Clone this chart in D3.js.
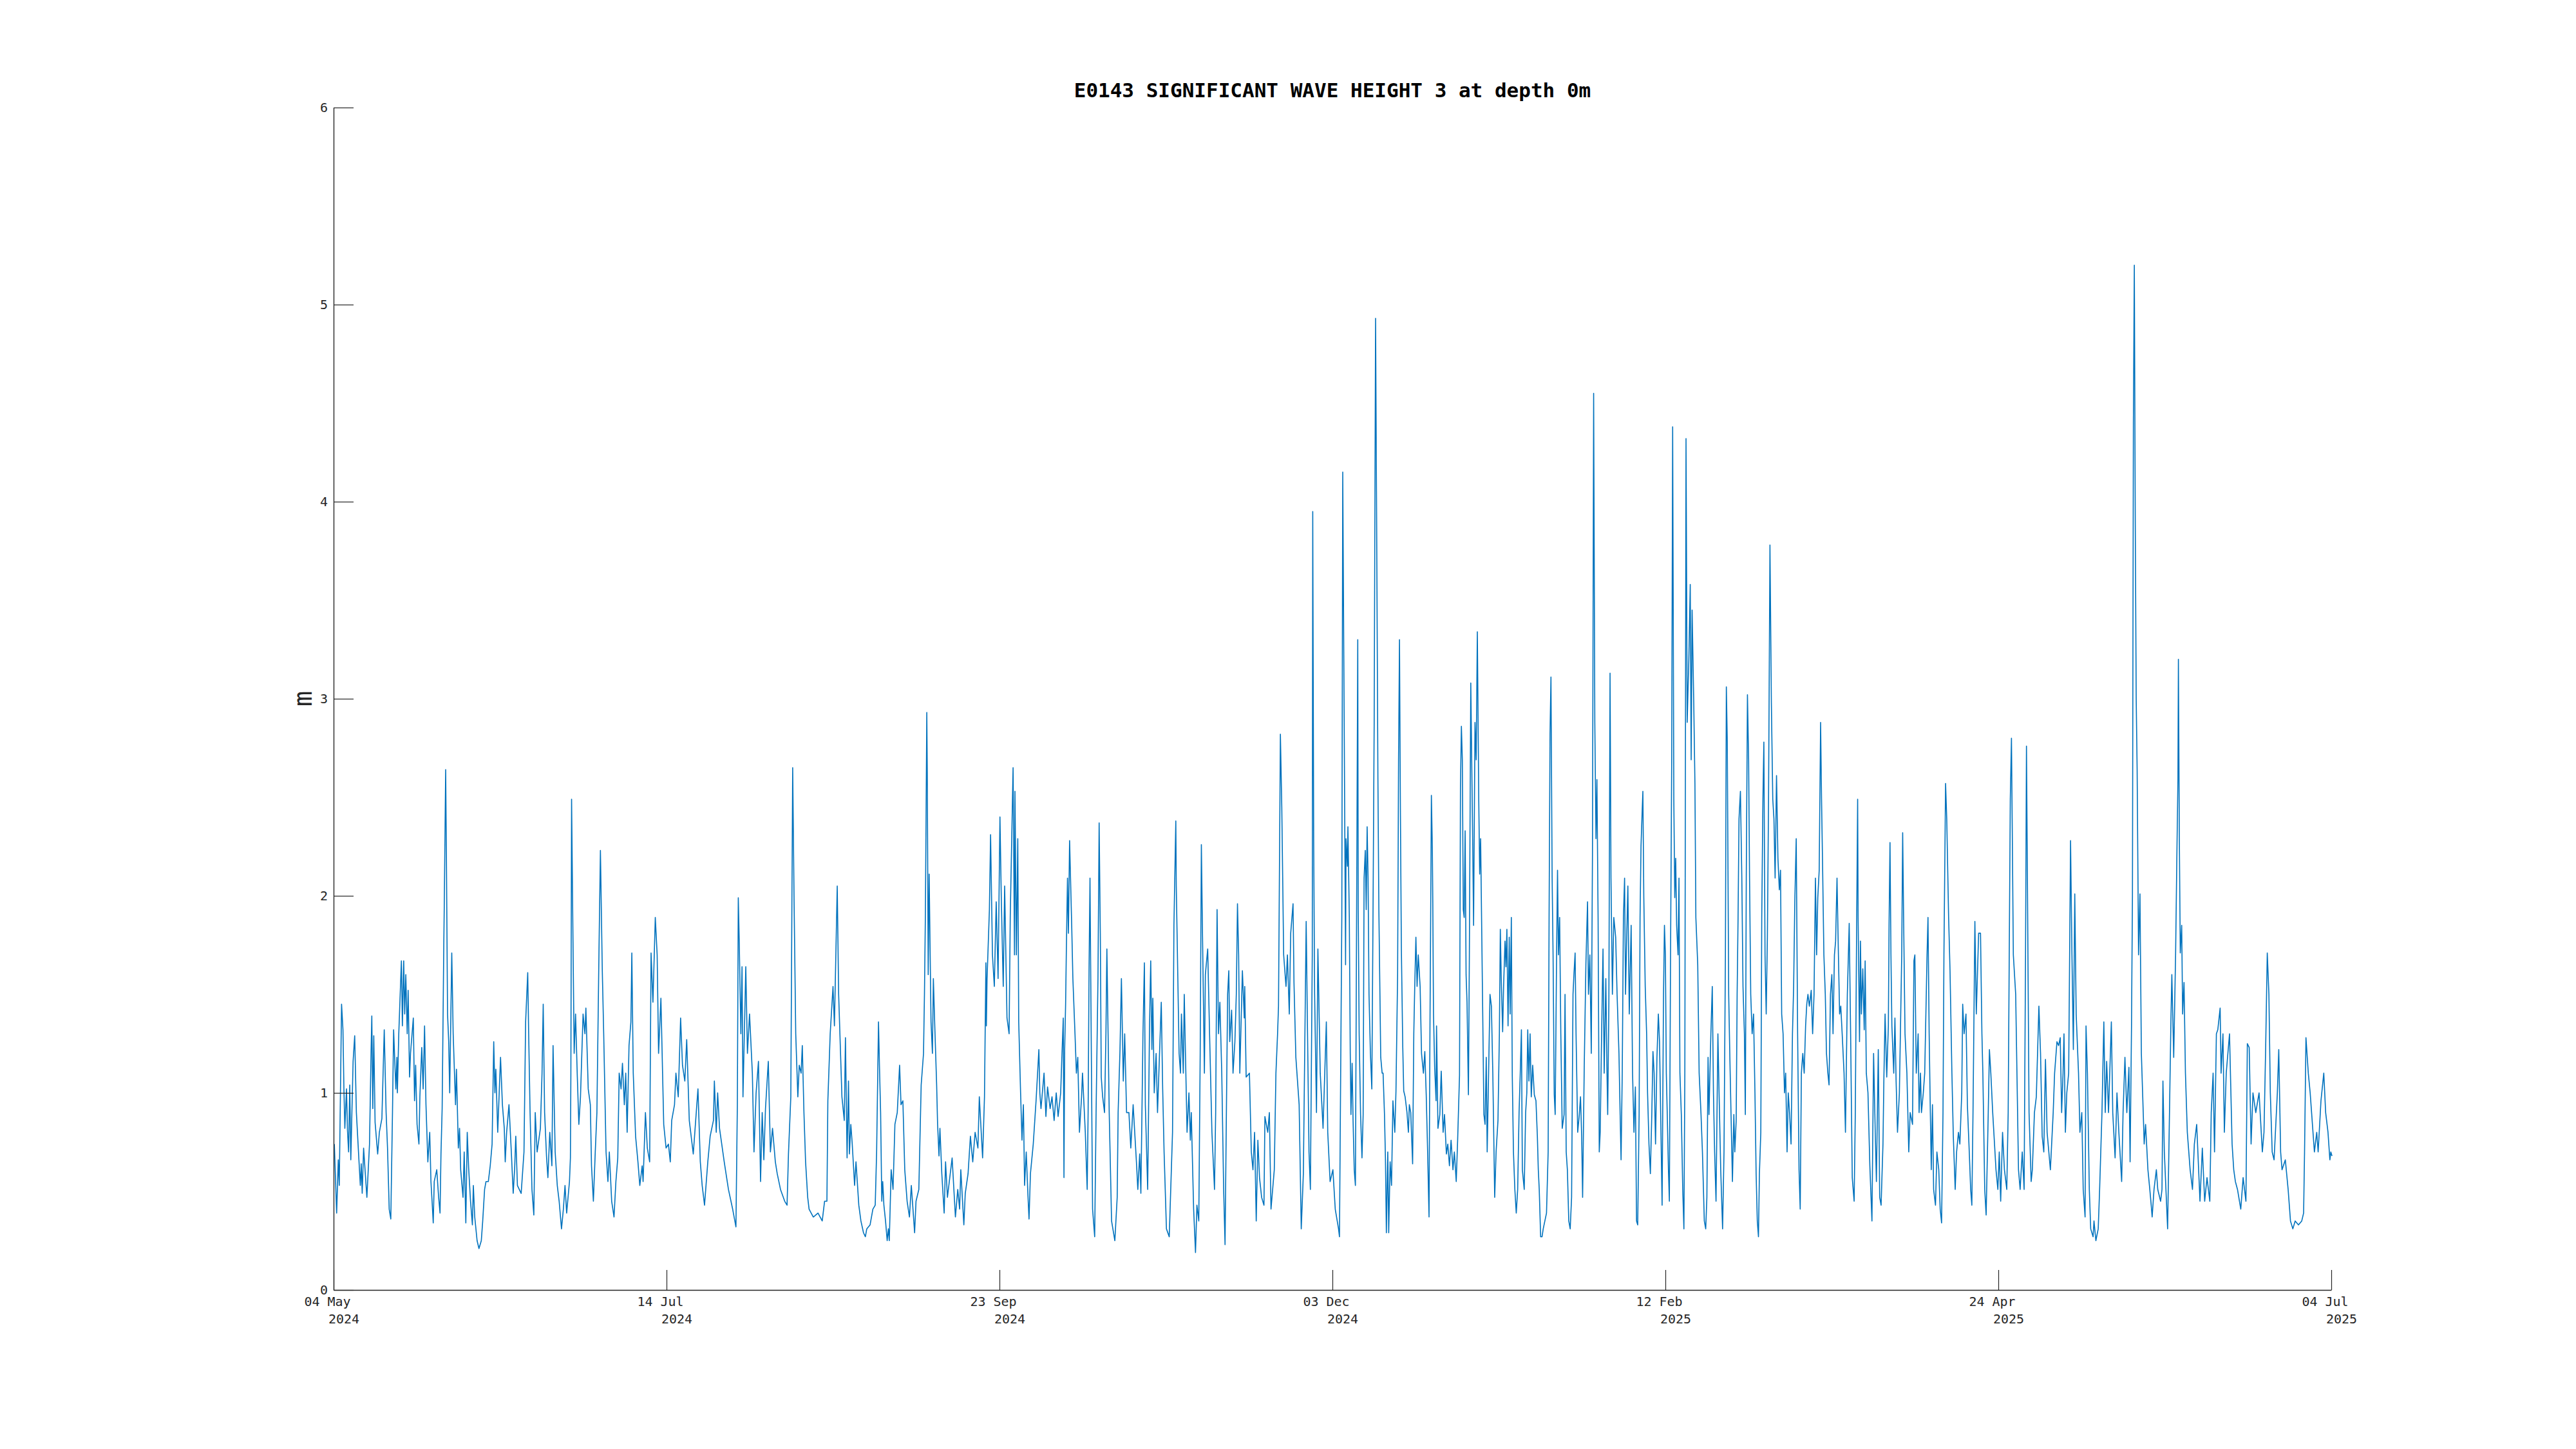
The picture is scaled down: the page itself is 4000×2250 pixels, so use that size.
<!DOCTYPE html>
<html>
<head>
<meta charset="utf-8">
<script src="https://cdn.jsdelivr.net/npm/d3@7"></script>
<style>
  html, body { margin: 0; padding: 0; background: #ffffff; }
  svg { display: block; }
</style>
</head>
<body>
<script>
// ---------------- DATA ----------------
const chartTitle = "E0143 SIGNIFICANT WAVE HEIGHT 3 at depth 0m";
const yAxisLabel = "m";
const startDate = "2024-05-04";
const endDate = "2025-07-04";

// x tick dates and their two-line labels
const xTickDates = ["2024-05-04", "2024-07-14", "2024-09-23", "2024-12-03", "2025-02-12", "2025-04-24", "2025-07-04"];
const xTickLine1 = ["04 May", "14 Jul", "23 Sep", "03 Dec", "12 Feb", "24 Apr", "04 Jul"];
const xTickLine2 = ["2024", "2024", "2024", "2024", "2025", "2025", "2025"];
const yTicks = [0, 1, 2, 3, 4, 5, 6];

// time of each sample, in days since startDate
const dayOffset = [
  0.16,0.65,1.0,1.21,1.7,2.0,2.2,2.4,2.75,2.96,
  3.2,3.45,3.67,4.16,4.5,4.86,5.4,5.7,5.9,6.1,
  6.4,7.1,7.66,8.0,8.15,8.36,8.57,8.85,9.4,9.76,
  10.3,10.8,11.2,11.5,11.86,12.2,12.56,12.8,13.27,13.5,
  13.6,13.9,14.2,14.46,14.67,14.95,15.16,15.4,15.7,15.9,
  16.2,16.4,17.0,17.26,17.5,17.8,18.2,18.4,18.8,19.1,
  19.4,19.7,20.1,20.5,20.76,21.0,21.25,21.46,22.0,22.4,
  22.7,22.9,23.15,23.5,23.6,23.9,24.06,24.3,24.55,24.76,
  25.2,25.5,26.0,26.2,26.6,26.86,27.1,27.6,27.85,28.2,
  28.5,28.8,29.2,29.6,29.8,30.1,30.6,31.0,31.5,31.8,
  32.2,32.5,33.0,33.4,33.8,34.15,34.4,34.6,35.0,35.6,
  36.0,36.4,36.6,36.9,37.4,37.9,38.3,38.6,38.85,39.2,
  40.0,40.6,40.95,41.4,41.6,41.9,42.3,42.7,43.0,43.4,
  44.1,44.45,44.7,45.0,45.4,45.7,46.1,46.55,46.8,47.25,
  47.7,48.1,48.6,49.0,49.35,49.7,50.3,50.5,50.6,50.75,
  51.0,51.3,51.6,51.95,52.3,52.65,53.2,53.6,53.8,54.3,
  54.75,55.0,55.4,55.8,56.15,56.6,56.9,57.3,57.6,58.1,
  58.5,58.8,59.3,59.8,60.2,60.6,60.9,61.3,61.6,62.0,
  62.3,62.6,63.0,63.4,63.6,63.9,64.4,64.9,65.3,65.8,
  66.0,66.5,66.9,67.4,67.7,68.1,68.6,69.0,69.3,69.8,
  70.4,70.9,71.4,71.8,72.1,72.7,73.0,73.5,74.0,74.4,
  74.9,75.3,75.85,76.7,77.7,78.2,78.6,79.1,79.8,80.3,
  81.0,81.2,81.6,81.9,82.3,83.3,84.2,85.1,85.8,86.1,
  86.3,86.5,86.85,87.1,87.3,87.9,88.25,88.7,89.3,89.65,
  90.1,90.6,91.05,91.4,91.75,92.1,92.7,93.15,93.6,94.2,
  94.6,95.3,96.2,96.7,97.0,97.5,97.9,98.2,98.55,99.0,
  99.3,99.7,99.95,100.3,100.65,101.1,101.4,102.3,103.3,104.2,
  104.7,105.2,105.4,105.9,106.5,106.8,107.4,107.7,108.4,
  108.9,109.15,109.5,109.8,110.0,110.3,110.6,111.1,111.4,112.0,
  112.45,113.0,113.4,113.7,114.4,115.0,115.5,115.8,116.2,116.4,
  116.65,116.9,117.1,117.35,117.7,118.05,118.3,118.5,118.9,119.3,
  119.7,120.2,120.7,121.0,121.4,121.8,122.3,122.8,123.2,123.9,
  124.2,124.8,125.3,125.8,126.0,126.2,126.5,126.6,126.8,127.0,
  127.4,127.7,127.9,128.2,128.6,128.8,129.1,129.3,129.7,130.2,
  130.5,130.9,131.9,132.6,133.1,133.5,133.75,134.4,134.7,135.3,
  135.8,136.3,136.8,137.4,137.7,138.4,138.8,139.1,139.2,139.35,
  139.85,140.1,140.5,140.9,141.3,141.7,142.1,142.4,142.8,143.1,
  143.6,144.05,144.3,144.9,145.2,145.3,145.6,145.9,146.1,146.5,
  146.8,147.1,147.35,147.7,148.05,148.3,148.6,149.2,149.8,150.4,
  150.6,150.85,151.5,151.9,152.25,152.8,153.2,153.65,154.1,154.5,
  155.05,155.3,155.6,155.75,155.9,156.1,156.25,156.5,156.7,156.95,
  157.4,157.65,158.1,158.4,158.7,159.05,159.5,159.7,160.3,160.7,
  160.9,161.1,161.3,161.5,161.85,162.3,162.6,163.0,163.25,163.5,
  163.7,164.0,164.4,164.7,164.9,165.4,165.9,166.6,167.1,167.3,
  167.7,168.0,168.4,168.7,169.1,169.6,170.0,170.5,171.2,171.5,
  171.9,172.15,172.6,172.9,173.1,173.6,174.0,174.25,174.5,174.7,
  175.0,175.4,175.7,176.5,176.8,177.1,177.6,178.2,178.9,179.2,
  179.6,179.7,180.3,180.6,180.8,181.2,181.4,182.0,182.4,182.7,
  182.9,183.4,183.8,184.1,184.5,184.8,185.05,185.3,185.7,185.9,
  186.4,186.8,187.3,187.85,188.1,188.4,188.7,189.0,189.4,189.8,
  190.1,190.3,190.65,190.9,191.1,191.5,191.8,192.2,192.5,192.75,
  193.0,193.25,193.8,194.2,194.3,194.6,195.3,195.7,196.05,196.4,
  196.75,197.1,197.45,197.9,198.4,198.6,199.2,199.55,199.9,200.6,
  200.95,201.3,201.5,201.9,202.2,202.6,203.1,203.4,203.8,204.1,
  204.6,204.8,205.2,205.9,206.35,206.8,207.4,208.0,208.3,208.7,
  208.8,209.0,209.2,209.6,209.9,210.4,211.0,211.7,212.0,212.5,
  213.1,213.6,214.3,214.5,215.0,215.2,
  215.8,215.9,216.2,216.3,216.5,216.6,216.8,216.95,217.2,217.4,
  217.65,217.9,218.15,218.4,218.5,218.7,219.0,219.3,219.55,219.75,
  220.0,220.2,220.4,220.6,220.8,221.1,221.4,221.65,221.9,222.2,
  222.5,222.7,222.9,223.3,223.6,223.8,224.1,224.3,224.5,224.8,
  225.0,225.3,225.6,225.9,226.3,226.55,226.9,227.1,227.3,227.5,
  227.7,228.0,228.2,228.5,228.9,229.2,229.4,229.7,230.1,230.35,
  230.55,230.8,231.05,231.3,231.7,232.0,232.4,232.7,233.0,233.3,
  233.6,233.8,234.0,234.1,234.3,234.4,234.55,234.8,235.1,235.2,
  235.5,235.9,236.2,236.6,236.9,237.3,237.6,237.95,238.3,238.7,
  239.0,239.4,239.7,240.1,240.3,240.5,240.7,240.9,241.1,241.3,
  241.5,241.7,242.0,242.2,242.5,242.9,243.1,243.4,243.65,243.9,
  244.2,244.4,244.6,245.0,245.3,245.55,245.8,246.0,246.3,246.6,
  246.9,247.2,247.6,247.9,248.3,248.6,248.8,249.0,249.3,249.5,
  249.8,250.0,250.2,250.45,250.7,250.9,251.15,251.35,251.6,251.9,
  252.2,252.5,252.8,253.05,253.3,253.5,253.9,254.2,254.45,254.65,
  254.9,255.15,255.4,255.7,256.05,256.4,256.7,256.9,257.1,257.4,
  257.7,257.95,258.3,258.65,259.0,259.2,259.4,259.6,259.85,260.05,
  260.3,260.5,260.8,261.0,261.2,261.45,261.7,262.0,262.4,262.6,
  262.85,263.1,263.4,263.7,264.0,264.3,264.5,264.75,264.95,265.3,
  265.65,265.9,266.15,266.35,266.7,267.05,267.4,267.6,267.9,268.2,
  268.45,268.7,268.95,269.2,269.4,269.65,269.9,270.1,270.4,270.7,
  270.95,271.3,271.55,271.7,271.95,272.2,272.4,272.7,273.0,273.4,
  273.7,274.1,274.35,274.55,274.8,275.05,275.3,275.5,275.75,276.0,
  276.3,276.7,277.0,277.3,277.6,277.85,278.1,278.4,278.6,278.8,
  279.05,279.2,279.4,279.7,280.0,280.2,280.5,280.8,281.1,281.35,
  281.6,281.9,282.2,282.5,282.75,283.0,283.3,283.6,283.8,284.0,
  284.2,284.4,284.65,284.85,285.1,285.35,285.55,285.8,286.0,286.2,
  286.4,286.7,286.9,287.1,287.4,287.7,287.95,288.15,288.4,288.65,
  289.0,289.3,289.5,289.7,290.05,290.3,290.5,290.9,291.2,291.6,
  291.9,292.3,292.6,292.85,293.1,293.3,293.7,294.0,294.25,294.5,
  294.8,295.2,295.45,295.8,296.2,296.5,296.8,297.0,297.2,297.5,
  297.75,298.0,298.3,298.6,298.8,299.1,299.3,299.5,299.7,300.0,
  300.3,300.55,300.85,301.05,301.25,301.5,301.75,301.95,302.2,302.5,
  302.8,303.1,303.35,303.6,303.85,304.05,304.35,304.55,304.8,305.0,
  305.25,305.5,305.75,306.0,306.3,306.6,306.9,307.15,307.4,307.7,
  308.0,308.3,308.55,308.8,309.1,309.4,309.65,309.95,310.2,310.5,
  310.8,311.1,311.35,311.6,311.9,312.2,312.5,312.75,313.0,313.3,
  313.6,313.9,314.15,314.4,314.7,315.1,315.4,315.7,316.0,316.25,
  316.5,316.8,317.1,317.3,317.5,317.8,318.1,318.35,318.65,318.9,
  319.2,319.5,319.75,320.05,320.3,320.6,320.9,321.15,321.4,321.7,
  322.1,322.4,322.8,
  323.2,323.5,323.85,324.25,324.5,324.8,325.0,325.1,325.4,325.6,
  325.8,326.1,326.4,326.6,326.85,327.2,327.6,328.05,328.4,328.75,
  329.0,329.4,329.7,330.0,330.4,330.6,330.85,331.2,331.55,331.7,
  331.9,332.1,332.3,332.7,332.95,333.2,333.5,333.9,334.4,334.6,
  334.8,335.1,335.5,335.9,336.2,336.7,337.0,337.2,337.5,337.9,
  338.1,338.4,338.6,339.0,339.3,339.8,340.0,340.25,340.5,340.7,
  340.95,341.2,341.6,341.9,342.3,342.6,342.9,343.2,343.4,343.75,
  344.0,344.4,344.7,345.1,345.4,345.8,346.1,346.5,346.8,347.2,
  347.4,347.7,348.1,348.4,348.8,349.1,349.35,349.6,350.0,350.3,
  350.8,351.2,351.5,351.7,352.1,352.4,352.85,353.1,353.4,353.8,
  354.5,354.9,355.2,355.5,355.9,356.3,356.8,357.1,357.55,357.8,
  358.2,358.7,359.3,359.65,360.1,360.5,360.8,361.0,361.2,361.55,
  362.0,362.25,362.7,363.1,363.65,364.0,364.35,364.7,365.05,365.4,
  366.1,366.7,367.0,367.5,367.85,368.2,368.5,368.8,369.0,369.3,
  369.6,370.0,370.4,370.7,371.0,371.3,371.6,372.1,372.4,372.8,
  373.1,373.5,373.7,374.0,374.4,374.7,375.2,375.4,375.8,376.3,
  376.6,377.1,377.5,377.8,378.1,378.5,379.1,379.4,379.9,380.3,
  380.7,381.3,381.6,382.0,382.4,382.85,383.1,383.4,383.6,383.8,
  384.0,384.2,384.4,384.6,384.9,385.2,385.5,385.9,386.1,386.4,
  386.9,387.3,387.6,387.8,388.2,388.7,389.0,389.6,389.9,390.1,
  390.4,391.1,391.5,391.8,392.0,392.4,392.8,393.1,393.3,393.4,
  393.6,393.8,394.1,394.3,394.6,394.9,395.3,395.9,396.4,396.8,
  397.3,398.0,398.5,399.0,399.5,400.1,400.4,400.8,401.1,401.5,
  401.8,402.3,402.5,402.9,403.2,403.6,404.3,404.85,405.2,405.55,
  406.0,406.7,407.2,407.8,408.1,408.5,408.9,409.3,409.9,410.6,
  411.3,411.65,412.0,412.35,412.7,413.0,413.4,413.8,414.5,414.8,
  415.2,415.5,416.2,416.8,417.3,417.8,418.3,419.0,419.7,420.1,
  420.3,420.6,421.1,421.5,421.8,422.4,422.9,423.2,423.8,424.4,
  424.8,425.3,425.7,425.9,426.15
];

// significant wave height (m) at each sample
const waveHeight = [
  0.74,0.39,0.66,0.53,1.45,1.32,1.02,0.82,1.02,0.81,
  0.70,1.04,0.66,1.16,1.29,0.90,0.66,0.53,0.64,0.49,
  0.72,0.47,0.74,1.22,1.39,0.92,1.29,0.85,0.69,0.80,
  0.87,1.32,0.90,0.72,0.41,0.36,0.90,1.32,1.02,1.18,
  1.00,1.30,1.50,1.67,1.34,1.67,1.40,1.60,1.30,1.52,
  1.08,1.20,1.38,0.96,1.14,0.84,0.74,0.98,1.23,1.02,
  1.34,0.94,0.65,0.80,0.55,0.45,0.34,0.55,0.61,0.47,
  0.39,0.69,0.92,1.75,1.95,2.64,2.19,1.40,1.26,1.00,
  1.71,1.30,0.94,1.12,0.72,0.82,0.61,0.47,0.70,0.34,
  0.80,0.62,0.45,0.33,0.53,0.37,0.25,0.21,0.25,0.35,
  0.51,0.55,0.55,0.63,0.74,1.26,1.00,1.12,0.80,1.18,
  0.94,0.82,0.65,0.80,0.94,0.70,0.49,0.61,0.78,0.53,
  0.49,0.70,1.36,1.61,1.30,0.90,0.51,0.38,0.90,0.70,
  0.82,1.10,1.45,0.90,0.68,0.57,0.80,0.63,1.24,0.70,
  0.53,0.45,0.31,0.41,0.53,0.39,0.55,0.67,1.10,2.49,
  1.89,1.20,1.40,1.10,0.84,0.98,1.40,1.30,1.43,1.02,
  0.94,0.63,0.45,0.70,0.90,1.73,2.23,1.62,1.30,0.70,
  0.55,0.70,0.45,0.37,0.55,0.67,1.10,1.02,1.15,0.94,
  1.10,0.80,1.24,1.36,1.71,1.10,0.78,0.65,0.53,0.63,
  0.55,0.90,0.72,0.65,1.71,1.46,1.89,1.70,1.20,1.48,
  0.84,0.72,0.74,0.65,0.86,0.94,1.10,0.98,1.38,1.14,
  1.06,1.27,0.86,0.69,1.02,0.65,0.53,0.43,0.65,0.78,
  0.86,1.06,0.80,1.00,0.82,0.65,0.51,0.41,0.32,0.94,
  1.99,1.77,1.30,1.64,0.98,1.64,1.20,1.40,1.10,0.70,
  1.00,1.16,0.55,0.90,0.66,0.92,1.16,0.70,0.82,0.65,
  0.59,0.51,0.45,0.43,0.69,0.98,2.65,1.97,1.30,0.98,
  1.14,1.10,1.24,0.90,0.65,0.47,0.41,0.37,0.39,0.35,
  0.45,0.45,0.96,1.30,1.54,1.34,2.05,1.50,0.98,
  0.86,1.28,0.67,1.06,0.69,0.84,0.74,0.53,0.65,0.43,
  0.35,0.29,0.27,0.31,0.33,0.41,0.43,0.70,1.36,1.14,
  0.90,0.45,0.55,0.43,0.35,0.25,0.31,0.25,0.61,0.51,
  0.84,0.90,1.14,0.94,0.96,0.61,0.45,0.37,0.53,0.29,
  0.45,0.51,1.04,1.20,1.50,1.91,2.93,2.63,1.60,2.11,
  1.36,1.20,1.58,1.34,1.04,0.84,0.68,0.82,0.59,0.39,
  0.65,0.47,0.67,0.37,0.51,0.41,0.61,0.33,0.49,0.59,
  0.78,0.65,0.80,0.72,0.98,0.67,0.98,1.66,1.34,1.58,
  1.93,2.31,1.70,1.54,1.97,1.58,2.40,1.97,1.54,2.05,
  1.38,1.30,1.90,2.65,1.70,2.53,1.70,2.29,1.36,1.00,
  0.76,0.94,0.53,0.70,0.49,0.36,0.59,0.74,0.96,1.22,
  1.00,0.92,1.10,0.88,1.03,0.92,0.98,0.86,1.00,0.88,
  1.00,1.18,1.38,0.57,1.22,1.45,1.71,2.09,1.81,2.28,
  1.85,1.58,1.30,1.10,1.18,0.80,0.98,1.10,0.80,0.51,
  0.90,1.62,2.09,1.46,0.41,0.27,0.90,1.58,2.37,1.81,
  1.08,0.98,0.90,1.30,1.73,0.90,0.35,0.25,0.47,0.90,
  1.22,1.58,1.06,1.30,0.90,0.90,0.72,0.94,0.65,0.51,
  0.69,0.49,1.30,1.66,0.94,0.51,1.34,1.67,1.22,1.48,
  1.00,1.20,0.90,1.46,1.02,0.70,0.31,0.27,0.80,1.85,
  2.38,2.05,1.20,1.10,1.40,1.10,1.50,0.80,1.00,0.76,
  0.90,0.41,0.19,0.43,0.35,1.20,2.26,1.79,1.10,1.60,
  1.73,1.30,0.80,0.51,0.90,1.93,1.30,1.46,1.10,0.51,
  0.23,0.70,1.50,1.62,1.26,1.42,1.10,1.26,1.50,1.96,
  1.70,1.10,1.62,1.38,1.54,1.08,1.10,0.70,0.61,0.80,
  0.35,0.76,0.57,0.47,0.43,0.88,0.80,0.90,0.41,0.61,
  1.10,1.30,1.44,2.82,2.45,1.70,1.54,1.70,1.40,1.81,
  1.96,1.56,1.18,0.94,0.31,0.59,1.87,0.70,0.51,1.70,
  3.95,2.29,1.50,0.90,1.73,1.10,0.82,1.36,0.80,0.55,
  0.61,0.41,0.31,0.27,1.89,4.15,
  1.65,2.29,2.15,2.35,2.05,1.89,1.20,0.89,1.15,0.86,
  0.61,0.53,1.89,3.30,1.93,1.30,0.89,0.67,0.89,2.09,
  2.23,1.93,2.35,2.09,1.50,1.20,1.02,1.89,2.88,4.93,
  3.55,2.59,1.93,1.18,1.10,1.10,0.89,0.67,0.29,0.70,
  0.29,0.65,0.53,0.96,0.80,1.01,1.60,2.69,3.30,2.41,
  1.73,1.23,1.01,0.98,0.90,0.80,0.94,0.90,0.64,1.30,
  1.54,1.79,1.54,1.70,1.54,1.20,1.10,1.21,0.99,0.70,
  0.37,1.34,2.09,2.51,2.25,1.97,1.40,1.13,0.96,1.34,
  0.82,0.89,1.11,0.80,0.89,0.69,0.74,0.63,0.76,0.61,
  0.70,0.55,0.76,1.09,2.55,2.86,2.69,1.93,1.89,2.33,
  1.60,1.46,0.99,1.70,3.08,2.29,1.85,2.88,2.69,3.34,
  2.49,2.11,2.29,1.50,0.89,0.84,1.18,0.70,1.10,1.50,
  1.44,1.10,0.47,0.70,0.86,1.30,1.83,1.58,1.31,1.54,
  1.77,1.64,1.83,1.34,1.79,1.40,1.89,1.09,0.70,0.51,
  0.39,0.51,0.90,1.10,1.32,0.61,0.51,0.90,1.00,1.32,
  1.06,1.30,0.98,1.14,0.99,0.96,0.78,0.61,0.51,0.27,
  0.27,0.31,0.35,0.39,0.70,1.89,2.82,3.11,2.09,1.70,
  0.99,0.89,1.70,2.13,1.70,1.89,1.30,0.82,0.89,1.50,
  0.70,0.61,0.35,0.31,0.47,1.50,1.60,1.71,1.30,0.80,
  0.89,0.98,0.78,0.47,1.14,1.65,1.97,1.50,1.70,1.20,
  2.21,4.55,2.88,2.29,2.59,1.89,0.70,0.80,1.30,1.73,
  1.10,1.58,1.10,0.89,1.46,3.13,2.09,1.50,1.89,1.79,
  1.50,1.20,0.89,0.66,1.10,1.89,2.09,1.50,1.79,2.05,
  1.40,1.85,1.10,0.80,1.03,0.35,0.33,0.89,1.89,2.25,
  2.43,2.53,1.99,1.54,1.30,1.00,0.74,0.59,0.89,1.21,
  1.10,0.74,1.18,1.40,1.26,0.89,0.43,1.50,1.85,1.70,
  1.10,0.89,0.61,0.45,1.70,2.69,4.38,2.49,1.99,2.19,
  1.85,1.70,2.09,1.10,0.89,0.51,0.31,1.10,4.32,2.88,
  3.20,3.58,2.69,3.45,2.98,2.57,1.89,1.65,1.10,0.89,
  0.70,0.35,0.31,0.47,1.18,0.89,1.30,1.54,1.00,0.70,
  0.45,1.30,1.00,0.61,0.31,0.70,1.70,3.06,2.78,1.50,
  1.18,0.89,0.55,0.89,0.70,0.86,1.50,1.89,2.39,2.53,
  2.09,1.54,1.30,0.89,2.09,3.02,2.69,2.09,1.50,1.30,
  1.40,1.00,0.59,0.35,0.27,0.59,0.80,1.89,2.49,2.78,
  1.70,1.40,1.79,2.49,3.78,2.98,2.49,2.39,2.09,2.61,
  2.19,2.03,2.13,1.40,1.30,1.00,1.10,0.70,1.00,0.89,
  0.74,1.30,1.54,1.97,2.29,1.30,0.61,0.41,1.10,1.20,
  1.10,1.34,1.45,1.50,1.44,1.52,1.30,1.50,2.09,1.70,
  1.99,2.13,2.88,2.49,2.19,1.70,1.50,1.20,1.10,1.04,
  1.50,1.60,1.30,1.70,1.77,2.09,1.70,1.40,1.44,1.30,
  1.10,0.80,1.50,
  1.86,1.30,0.57,0.45,0.90,1.89,2.49,1.89,1.26,1.77,
  1.40,1.63,1.32,1.67,1.10,1.00,0.63,0.35,1.20,0.80,
  0.55,1.22,0.47,0.43,0.74,1.08,1.40,1.08,1.34,1.85,
  2.27,1.70,1.34,1.10,1.38,1.06,0.80,1.00,1.70,2.32,
  1.89,1.30,1.10,0.70,0.90,0.84,1.67,1.70,1.10,1.30,
  0.90,1.10,0.90,1.00,1.10,1.70,1.89,1.30,0.90,0.61,
  0.94,0.51,0.43,0.70,0.61,0.41,0.34,0.90,1.70,2.57,
  2.39,1.89,1.62,1.10,0.78,0.51,0.70,0.80,0.74,1.00,
  1.45,1.30,1.40,0.94,0.70,0.51,0.43,0.90,1.87,1.40,
  1.81,1.81,1.30,1.10,0.51,0.38,0.90,1.22,1.10,0.90,
  0.61,0.51,0.70,0.45,0.80,0.61,0.51,0.90,2.49,2.80,
  1.70,1.50,0.61,0.51,0.70,0.51,1.70,2.76,2.09,0.90,
  0.55,0.61,0.90,0.98,1.44,1.20,0.78,0.70,1.17,0.80,
  0.61,0.90,1.10,1.26,1.24,1.28,0.90,1.10,1.30,0.80,
  1.00,1.10,2.28,1.70,1.22,2.01,1.40,1.10,0.80,0.90,
  0.51,0.37,1.34,1.10,0.51,0.31,0.27,0.35,0.25,0.31,
  0.51,0.90,1.36,0.90,1.16,0.90,1.36,0.90,0.67,1.00,
  0.80,0.55,0.90,1.18,0.90,1.13,0.65,1.34,2.00,4.40,
  5.20,3.90,3.00,2.64,1.70,2.01,1.20,0.90,0.74,0.84,
  0.61,0.51,0.43,0.37,0.51,0.61,0.51,0.45,0.51,1.06,
  0.70,0.31,0.90,1.36,1.60,1.18,1.70,2.25,2.59,3.20,
  2.29,1.71,1.85,1.40,1.56,1.10,0.80,0.61,0.51,0.74,
  0.84,0.45,0.72,0.45,0.57,0.45,0.90,1.10,0.70,1.30,
  1.32,1.43,1.10,1.30,0.80,1.10,1.30,0.74,0.61,0.55,
  0.51,0.41,0.57,0.45,1.25,1.23,0.74,1.00,0.90,1.00,
  0.70,0.80,1.22,1.71,1.50,1.00,0.70,0.66,1.00,1.22,
  0.70,0.61,0.66,0.51,0.35,0.31,0.35,0.33,0.35,0.39,
  0.70,1.28,1.10,1.00,0.90,0.70,0.80,0.70,0.96,1.10,
  0.90,0.80,0.66,0.70,0.68
];

// ---------------- CHART ----------------
const W = 4000, H = 2250;
const fontMono = "'DejaVu Sans Mono', 'Liberation Mono', monospace";
const axisColor = "#262626";
const lineColor = "#0072BD";

const parseDay = d3.utcParse("%Y-%m-%d");
const t0 = parseDay(startDate);
const t1 = parseDay(endDate);

const n = Math.min(dayOffset.length, waveHeight.length);
if (dayOffset.length !== waveHeight.length) console.warn("length mismatch", dayOffset.length, waveHeight.length);
const series = d3.range(n).map(i => ({
  t: new Date(t0.getTime() + dayOffset[i] * 864e5),
  v: waveHeight[i]
}));

const svg = d3.select("body").append("svg")
  .attr("width", W).attr("height", H)
  .attr("viewBox", `0 0 ${W} ${H}`)
  .style("background", "#ffffff");

const x = d3.scaleUtc().domain([t0, t1]).range([518, 3620]);
const y = d3.scaleLinear().domain([0, 6]).range([2003, 167]);

// data line
svg.append("path")
  .datum(series)
  .attr("fill", "none")
  .attr("stroke", lineColor)
  .attr("stroke-width", 1.6)
  .attr("stroke-linejoin", "round")
  .attr("d", d3.line().x(d => x(d.t)).y(d => y(d.v)));

// x axis
const tickDates = xTickDates.map(parseDay);
const gx = svg.append("g")
  .attr("transform", `translate(0,${y(0)})`)
  .call(d3.axisBottom(x).tickValues(tickDates).tickSizeInner(-31).tickSizeOuter(0).tickFormat(() => ""));
gx.select(".domain").attr("stroke", axisColor).attr("stroke-width", 1.4);
gx.selectAll(".tick line").attr("stroke", axisColor).attr("stroke-width", 1.2);
gx.selectAll(".tick text").remove();

const xl = svg.append("g")
  .attr("font-family", fontMono)
  .attr("font-size", 20)
  .attr("fill", axisColor);
tickDates.forEach((d, i) => {
  xl.append("text")
    .attr("x", x(d) - 9.5).attr("y", y(0) + 25)
    .attr("text-anchor", "middle")
    .text(xTickLine1[i]);
  xl.append("text")
    .attr("x", x(d) - 8).attr("y", y(0) + 52)
    .attr("text-anchor", "start")
    .text(xTickLine2[i]);
});

// y axis
const gy = svg.append("g")
  .attr("transform", `translate(${x(t0)},0)`)
  .call(d3.axisLeft(y).tickValues(yTicks).tickSizeInner(-31).tickSizeOuter(0).tickPadding(9).tickFormat(d3.format("d")));
gy.select(".domain").attr("stroke", axisColor).attr("stroke-width", 1.4);
gy.selectAll(".tick line").attr("stroke", axisColor).attr("stroke-width", 1.2);
gy.selectAll(".tick text")
  .attr("font-family", fontMono)
  .attr("font-size", 20)
  .attr("fill", axisColor);
gy.attr("font-family", fontMono);

// y label
svg.append("text")
  .attr("transform", `translate(484,${y(3)}) rotate(-90)`)
  .attr("text-anchor", "middle")
  .attr("font-family", fontMono)
  .attr("font-size", 40)
  .attr("fill", axisColor)
  .text(yAxisLabel);

// title
svg.append("text")
  .attr("x", (x(t0) + x(t1)) / 2)
  .attr("y", 151)
  .attr("text-anchor", "middle")
  .attr("font-family", fontMono)
  .attr("font-weight", "bold")
  .attr("font-size", 31)
  .attr("fill", "#000000")
  .text(chartTitle);
</script>
</body>
</html>
